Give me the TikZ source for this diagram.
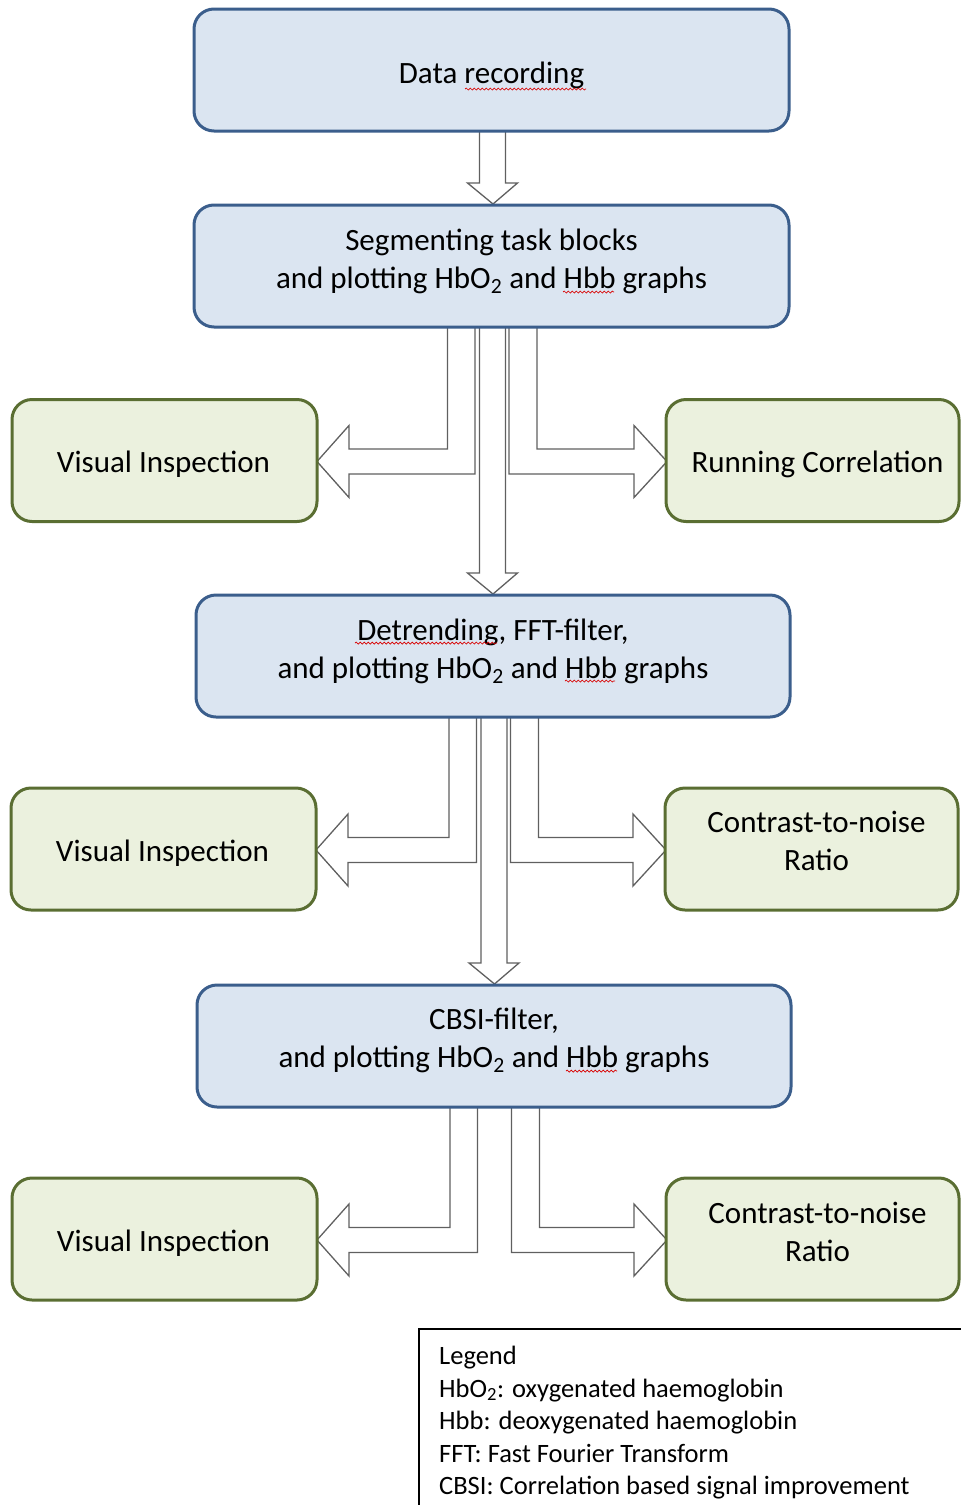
\documentclass[tikz,border=0pt]{standalone}
\usepackage{fontspec}
\setmainfont{Carlito}
\usetikzlibrary{calc,decorations.pathmorphing}
\definecolor{bluefill}{HTML}{DBE5F1}
\definecolor{blueline}{HTML}{3B5E8C}
\definecolor{greenfill}{HTML}{EBF1DE}
\definecolor{greenline}{HTML}{5A6E32}
\definecolor{arrowline}{HTML}{606060}
\newcommand{\twolines}[2]{\begin{tabular}[t]{@{}c@{}}#1\\#2\end{tabular}}
\newcommand{\hbotwo}{HbO\textsubscript{2}}
\begin{document}
\begin{tikzpicture}[x=1pt,y=-1pt,
  bluebox/.style={draw=blueline,fill=bluefill,line width=3pt,rounded corners=20pt,
    minimum width=595pt,minimum height=122pt,inner sep=0pt,outer sep=0pt},
  greenbox/.style={draw=greenline,fill=greenfill,line width=3pt,rounded corners=20pt,
    minimum height=122pt,inner sep=0pt,outer sep=0pt},
  boxtext/.style={font=\fontsize{31}{38}\selectfont,text=black,inner sep=0pt,anchor=base},
  blockarrow/.style={draw=arrowline,fill=white,line width=1.3pt,line join=miter},
  spell/.style={draw=red!85!black,line width=0.7pt,decorate,
    decoration={snake,segment length=4pt,amplitude=1pt}},
  legendtext/.style={font=\fontsize{26.5}{32.3}\selectfont,anchor=base west,inner sep=0pt}
]
\useasboundingbox (0,0) rectangle (961,1505);

% ---------- box centres ----------
\coordinate (c1) at (491.5,70);
\coordinate (c2) at (491.5,266);
\coordinate (c3) at (493,656);
\coordinate (c4) at (494,1046);

% ---------- invisible geometry nodes (for arrows) ----------
\path (c1) node[bluebox,draw=none,fill=none] (b1) {};
\path (c2) node[bluebox,draw=none,fill=none] (b2) {};
\path (c3) node[bluebox,draw=none,fill=none,minimum width=594pt] (b3) {};
\path (c4) node[bluebox,draw=none,fill=none,minimum width=594pt] (b4) {};
\path (164.5,460.5) node[greenbox,draw=none,fill=none,minimum width=305pt] (v1) {};
\path (812.5,460.5) node[greenbox,draw=none,fill=none,minimum width=293pt] (r1) {};
\path (163.5,849) node[greenbox,draw=none,fill=none,minimum width=305pt] (v2) {};
\path (811.5,849) node[greenbox,draw=none,fill=none,minimum width=293pt] (n1) {};
\path (164.5,1239) node[greenbox,draw=none,fill=none,minimum width=305pt] (v3) {};
\path (812.5,1239) node[greenbox,draw=none,fill=none,minimum width=293pt] (n2) {};

% down arrows
\foreach \a/\b in {b1/b2,b2/b3,b3/b4}{
  \draw[blockarrow] let \p1=(\a.south), \p2=(\b.north) in
    (\x1-12pt,\y1) -- (\x1-12pt,\y2+22pt) -- (\x1-24pt,\y2+22pt) -- (\x1+1.5pt,\y2+1pt)
    -- (\x1+26pt,\y2+22pt) -- (\x1+14pt,\y2+22pt) -- (\x1+14pt,\y1) -- cycle;
}
% left bent arrows
\foreach \a/\b in {b2/v1,b3/v2,b4/v3}{
  \draw[blockarrow] let \p1=(\a.south), \p2=(\b.east) in
    (\x1-44pt,\y1) -- (\x1-44pt,\y2+11.5pt) -- (\x2+32pt,\y2+11.5pt) -- (\x2+32pt,\y2+35pt)
    -- (\x2,\y2-1pt) -- (\x2+32pt,\y2-37pt) -- (\x2+32pt,\y2-13.5pt)
    -- (\x1-16.5pt,\y2-13.5pt) -- (\x1-16.5pt,\y1) -- cycle;
}
% right bent arrows
\foreach \a/\b in {b2/r1,b3/n1,b4/n2}{
  \draw[blockarrow] let \p1=(\a.south), \p2=(\b.west) in
    (\x1+17.5pt,\y1) -- (\x1+17.5pt,\y2-13.5pt) -- (\x2-32pt,\y2-13.5pt) -- (\x2-32pt,\y2-37pt)
    -- (\x2+1pt,\y2-1pt) -- (\x2-32pt,\y2+35pt) -- (\x2-32pt,\y2+11.5pt)
    -- (\x1+45.5pt,\y2+11.5pt) -- (\x1+45.5pt,\y1) -- cycle;
}

% ---------- visible boxes ----------
\node[bluebox] (B1) at (b1) {};
\node[bluebox] (B2) at (b2) {};
\node[bluebox,minimum width=594pt] (B3) at (b3) {};
\node[bluebox,minimum width=594pt] (B4) at (b4) {};
\node[greenbox,minimum width=305pt] (V1) at (v1) {};
\node[greenbox,minimum width=293pt] (R1) at (r1) {};
\node[greenbox,minimum width=305pt] (V2) at (v2) {};
\node[greenbox,minimum width=293pt] (N1) at (n1) {};
\node[greenbox,minimum width=305pt] (V3) at (v3) {};
\node[greenbox,minimum width=293pt] (N2) at (n2) {};

% ---------- texts ----------
\node[boxtext] (t1) at ($(B1.center)+(0,13)$) {Data recording};
\node[boxtext] (t2) at ($(B2.center)+(0,-16)$) {\twolines{Segmenting task blocks}{and plotting \hbotwo{} and Hbb graphs}};
\node[boxtext] (t3) at ($(B3.center)+(0,-16)$) {\twolines{Detrending, FFT-filter,}{and plotting \hbotwo{} and Hbb graphs}};
\node[boxtext] (t4) at ($(B4.center)+(0,-17)$) {\twolines{CBSI-filter,}{and plotting \hbotwo{} and Hbb graphs}};
\node[boxtext] (tv1) at ($(V1.center)+(-1,12)$) {Visual Inspection};
\node[boxtext] (tr1) at ($(R1.center)+(5,12)$) {Running Correlation};
\node[boxtext] (tv2) at ($(V2.center)+(-1,12.5)$) {Visual Inspection};
\node[boxtext] (tn1) at ($(N1.center)+(5,-16.5)$) {\twolines{Contrast-to-noise}{Ratio}};
\node[boxtext] (tv3) at ($(V3.center)+(-1,12.5)$) {Visual Inspection};
\node[boxtext] (tn2) at ($(N2.center)+(5,-15.5)$) {\twolines{Contrast-to-noise}{Ratio}};

% spell-check squiggles
\draw[spell] (465,89) -- (586,89);
\draw[spell] (563,292) -- (614,292);
\draw[spell] (355,643) -- (497,643);
\draw[spell] (565,681) -- (615,681);
\draw[spell] (566,1071) -- (617,1071);

% ---------- legend ----------
\node[draw=black,line width=1.5pt,anchor=north west,minimum width=600pt,minimum height=220pt,
  inner sep=0pt] (legend) at (418,1328) {};
\node[legendtext] (l1) at (439,1364) {Legend};
\node[legendtext] (l2) at (439,1397) {\hbotwo: oxygenated haemoglobin};
\node[legendtext] (l3) at (439,1429) {Hbb: deoxygenated haemoglobin};
\node[legendtext] (l4) at (439,1462) {FFT: Fast Fourier Transform};
\node[legendtext] (l5) at (439,1494) {CBSI: Correlation based signal improvement};
\end{tikzpicture}
\end{document}
